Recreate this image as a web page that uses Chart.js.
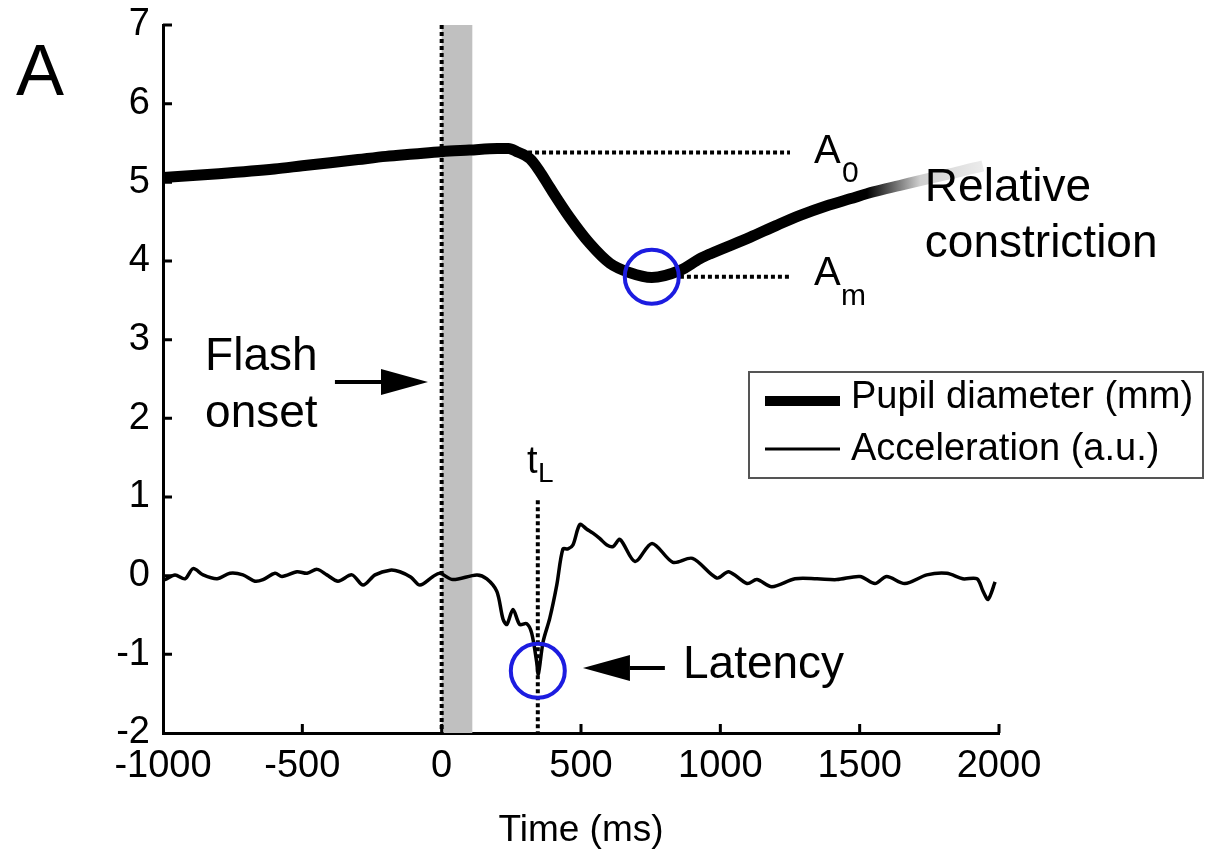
<!DOCTYPE html>
<html>
<head>
<meta charset="utf-8">
<title>Pupil light reflex</title>
<style>
	html, body { margin: 0; padding: 0; background: #fff; }
	canvas { display: block; }
</style>
</head>
<body>
<canvas id="myChart" width="1213" height="851"></canvas>
<script src="https://cdn.jsdelivr.net/npm/chart.js@4.4.1/dist/chart.umd.min.js"></script>
<script>
const FONT = "'Liberation Sans', Arial, Helvetica, sans-serif"

/* Data */
const pupilTime = [-1000, -800, -600, -500, -400, -300, -200, -100, 0, 100, 200, 240, 270, 317, 350, 389, 460, 532, 604, 676, 754, 855, 927, 963, 1106, 1200, 1286, 1380, 1465, 1550, 1644, 1750, 1850, 1942]
const pupilMm = [5.06, 5.11, 5.17, 5.21, 5.25, 5.29, 5.33, 5.36, 5.39, 5.41, 5.43, 5.43, 5.39, 5.3, 5.15, 4.93, 4.55, 4.22, 3.97, 3.85, 3.79, 3.88, 4.03, 4.09, 4.3, 4.45, 4.58, 4.7, 4.79, 4.88, 4.96, 5.05, 5.13, 5.21]

const accelTime = [-1000, -993, -957, -921, -892, -856, -806, -760, -713, -670, -641, -598, -573, -519, -483, -447, -412, -372, -322, -282, -239, -185, -150, -110, -78, -31, -6, 40, 126, 162, 198, 220, 234, 256, 280, 305, 323, 341, 347, 364, 388, 413, 435, 453, 471, 496, 521, 543, 568, 593, 615, 640, 694, 755, 830, 900, 988, 1030, 1096, 1131, 1185, 1268, 1347, 1418, 1501, 1555, 1597, 1662, 1741, 1813, 1870, 1921, 1943, 1961, 1986]
const accelAu = [-0.04, -0.05, 0.01, -0.04, 0.09, 0.01, -0.04, 0.03, 0.01, -0.07, -0.05, 0.03, -0.01, 0.05, 0.03, 0.08, 0.01, -0.07, 0.01, -0.12, 0.01, 0.07, 0.05, -0.02, -0.12, -0.01, 0.03, -0.05, 0.01, -0.04, -0.2, -0.55, -0.62, -0.43, -0.62, -0.61, -0.73, -1.1, -1.25, -0.84, -0.54, -0.12, 0.34, 0.34, 0.39, 0.65, 0.59, 0.54, 0.47, 0.39, 0.37, 0.46, 0.18, 0.41, 0.17, 0.22, -0.03, 0.05, -0.1, -0.05, -0.14, -0.04, -0.04, -0.05, -0.01, -0.1, -0.01, -0.1, 0.01, 0.03, -0.04, -0.04, -0.2, -0.3, -0.08]

const xTicks = [-1000, -500, 0, 500, 1000, 1500, 2000]
const yTicks = [-2, -1, 0, 1, 2, 3, 4, 5, 6, 7]

/* Annotation values (data units) */
const flashBand = [0, 110]
const latencyTime = 345
const latencyLevel = -1.21
const minTime = 754
const a0Level = 5.38
const amLevel = 3.8
const fadeFrom = 1526
const fadeTo = 1942

const textLabels = [
	{ text: 'A', x: 1336, y: 5.246, size: 40 },
	{ text: '0', x: 1437, y: 5.004, size: 30 },
	{ text: 'A', x: 1336, y: 3.695, size: 40 },
	{ text: 'm', x: 1433, y: 3.441, size: 30 },
	{ text: 'Relative', x: 1734, y: 4.763, size: 46 },
	{ text: 'constriction', x: 1734, y: 4.051, size: 46 },
	{ text: 'Flash', x: -849, y: 2.614, size: 46 },
	{ text: 'onset', x: -849, y: 1.89, size: 46 },
	{ text: 'Latency', x: 866, y: -1.301, size: 46 },
	{ text: 't', x: 306, y: 1.305, size: 38 },
	{ text: 'L', x: 346, y: 1.191, size: 28 },
]

const arrows = [
	{ from: -383, to: -49, y: 2.462 },
	{ from: 801, to: 507, y: -1.174 },
]

const toPoints = (xs, ys) => xs.map((x, i) => ({ x: x, y: ys[i] }))

function pupilColor(context) {
	const chart = context.chart
	if (!chart.chartArea) return '#000'
	const xs = chart.scales.x
	const g = chart.ctx.createLinearGradient(xs.getPixelForValue(fadeFrom), 0, xs.getPixelForValue(fadeTo), 0)
	g.addColorStop(0, '#000')
	g.addColorStop(0.46, '#cfcfcf')
	g.addColorStop(1, '#ececec')
	return g
}

function dotted(ctx, x1, y1, x2, y2) {
	ctx.save()
	ctx.strokeStyle = '#000'
	ctx.lineWidth = 4
	ctx.setLineDash([4, 3])
	ctx.beginPath()
	ctx.moveTo(x1, y1)
	ctx.lineTo(x2, y2)
	ctx.stroke()
	ctx.restore()
}

function circle(ctx, x, y) {
	ctx.save()
	ctx.strokeStyle = '#1c1ce0'
	ctx.lineWidth = 4
	ctx.beginPath()
	ctx.arc(x, y, 27, 0, Math.PI * 2)
	ctx.stroke()
	ctx.restore()
}

function arrow(ctx, x1, x2, y) {
	const dir = Math.sign(x2 - x1)
	const head = 47
	ctx.save()
	ctx.strokeStyle = '#000'
	ctx.fillStyle = '#000'
	ctx.lineWidth = 4
	ctx.beginPath()
	ctx.moveTo(x1, y)
	ctx.lineTo(x2 - dir * head, y)
	ctx.stroke()
	ctx.beginPath()
	ctx.moveTo(x2, y)
	ctx.lineTo(x2 - dir * head, y - 13)
	ctx.lineTo(x2 - dir * head, y + 13)
	ctx.closePath()
	ctx.fill()
	ctx.restore()
}

const overlay = {
	id: 'overlay',
	beforeDatasetsDraw(chart) {
		const { ctx, chartArea: area, scales: { x } } = chart
		ctx.save()
		ctx.fillStyle = '#c0c0c0'
		const b0 = x.getPixelForValue(flashBand[0])
		const b1 = x.getPixelForValue(flashBand[1])
		ctx.fillRect(b0, area.top, b1 - b0, area.bottom - area.top)
		ctx.restore()
	},
	afterDatasetsDraw(chart) {
		const { ctx, chartArea: area, scales: { x, y } } = chart

		// reference lines
		dotted(ctx, x.getPixelForValue(0), area.top, x.getPixelForValue(0), area.bottom)
		dotted(ctx, x.getPixelForValue(latencyTime), y.getPixelForValue(0.96), x.getPixelForValue(latencyTime), area.bottom)
		dotted(ctx, x.getPixelForValue(310), y.getPixelForValue(a0Level), x.getPixelForValue(1250), y.getPixelForValue(a0Level))
		dotted(ctx, x.getPixelForValue(855), y.getPixelForValue(amLevel), x.getPixelForValue(1250), y.getPixelForValue(amLevel))

		circle(ctx, x.getPixelForValue(minTime), y.getPixelForValue(amLevel))
		circle(ctx, x.getPixelForValue(latencyTime), y.getPixelForValue(latencyLevel))

		arrows.forEach(a => arrow(ctx, x.getPixelForValue(a.from), x.getPixelForValue(a.to), y.getPixelForValue(a.y)))

		ctx.save()
		ctx.fillStyle = '#000'
		ctx.textAlign = 'left'
		ctx.textBaseline = 'alphabetic'
		textLabels.forEach(t => {
			ctx.font = t.size + 'px ' + FONT
			ctx.fillText(t.text, x.getPixelForValue(t.x), y.getPixelForValue(t.y))
		})
		ctx.restore()

		// inward ticks
		ctx.save()
		ctx.strokeStyle = '#000'
		ctx.lineWidth = 3
		ctx.beginPath()
		xTicks.slice(1).forEach(v => {
			const px = x.getPixelForValue(v)
			ctx.moveTo(px, area.bottom)
			ctx.lineTo(px, area.bottom - 9)
		})
		yTicks.slice(1).forEach(v => {
			const py = y.getPixelForValue(v)
			ctx.moveTo(area.left, py)
			ctx.lineTo(area.left + 9, py)
		})
		ctx.stroke()
		ctx.restore()

		// legend box
		ctx.save()
		ctx.fillStyle = '#fff'
		ctx.fillRect(749, 372, 454, 106)
		ctx.strokeStyle = '#555'
		ctx.lineWidth = 2
		ctx.strokeRect(749, 372, 454, 106)
		ctx.fillStyle = '#000'
		ctx.strokeStyle = '#000'
		ctx.font = '38px ' + FONT
		const rows = [{ w: 10, y: 401, base: 408 }, { w: 3, y: 449, base: 460 }]
		chart.data.datasets.forEach((ds, i) => {
			const r = rows[i]
			ctx.lineWidth = r.w
			ctx.beginPath()
			ctx.moveTo(765, r.y)
			ctx.lineTo(840, r.y)
			ctx.stroke()
			ctx.fillText(ds.label, 851, r.base)
		})
		ctx.restore()

		// panel letter
		ctx.save()
		ctx.fillStyle = '#000'
		ctx.font = '72px ' + FONT
		ctx.fillText('A', 16, 95)
		ctx.restore()
	},
}

const ctx = document.getElementById('myChart')

new Chart(ctx, {
	type: 'line',
	data: {
		datasets: [
			{
				label: 'Pupil diameter (mm)',
				data: toPoints(pupilTime, pupilMm),
				borderColor: pupilColor,
				borderWidth: 11,
				cubicInterpolationMode: 'monotone',
				pointRadius: 0,
				borderCapStyle: 'butt',
			},
			{
				label: 'Acceleration (a.u.)',
				data: toPoints(accelTime, accelAu),
				borderColor: '#000',
				borderWidth: 3.5,
				tension: 0.3,
				pointRadius: 0,
				borderJoinStyle: 'round',
			},
		],
	},
	options: {
		responsive: false,
		animation: false,
		layout: {
			padding: { left: 0, right: 214, top: 25, bottom: 0 },
		},
		plugins: {
			legend: { display: false },
			tooltip: { enabled: false },
		},
		scales: {
			x: {
				type: 'linear',
				min: -1000,
				max: 2000,
				afterBuildTicks: s => { s.ticks = xTicks.map(v => ({ value: v })) },
				afterFit: s => { s.height = 118 },
				grid: { display: true, drawOnChartArea: false, drawTicks: false },
				border: { display: true, color: '#000', width: 3 },
				ticks: {
					color: '#000',
					padding: 15,
					maxRotation: 0,
					font: { family: FONT, size: 38, lineHeight: 1 },
					callback: v => String(v),
				},
				title: {
					display: true,
					text: 'Time (ms)',
					color: '#000',
					padding: { top: 0, bottom: 2 },
					font: { family: FONT, size: 37, lineHeight: 1 },
				},
			},
			y: {
				min: -2,
				max: 7,
				afterBuildTicks: s => { s.ticks = yTicks.map(v => ({ value: v })) },
				afterFit: s => {
					s.width = 163
					s.paddingTop = 0
					s.paddingBottom = 0
				},
				grid: { display: true, drawOnChartArea: false, drawTicks: false },
				border: { display: true, color: '#000', width: 3 },
				ticks: {
					color: '#000',
					padding: 13,
					font: { family: FONT, size: 38, lineHeight: 1 },
					callback: v => String(v),
				},
			},
		},
	},
	plugins: [overlay],
})
</script>
</body>
</html>
